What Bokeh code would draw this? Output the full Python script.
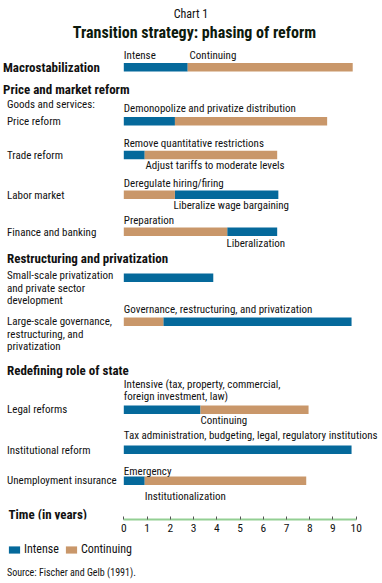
from bokeh.plotting import figure
from bokeh.models import Range1d, LinearAxis, FixedTicker, Legend, LegendItem, Label
from bokeh.layouts import column
from bokeh.core.properties import value
from bokeh.embed import file_html
from bokeh.resources import INLINE

# ---------------- data ----------------
intense_rows = ["Macrostabilization", "Price reform", "Trade reform", "Labor market",
                "Finance and banking", "Small-scale privatization", "Large-scale governance",
                "Legal reforms", "Institutional reform", "Unemployment insurance"]
intense_start = [0, 0, 0, 2.2, 4.45, 0, 1.7, 0, 0, 0]
intense_end = [2.75, 2.2, 0.9, 6.65, 6.6, 3.85, 9.8, 3.3, 9.8, 0.9]

continuing_rows = ["Macrostabilization", "Price reform", "Trade reform", "Labor market",
                   "Finance and banking", "Large-scale governance", "Legal reforms",
                   "Unemployment insurance"]
continuing_start = [2.75, 2.2, 0.9, 0, 0, 0, 3.3, 0.9]
continuing_end = [9.85, 8.75, 6.6, 2.2, 4.45, 1.7, 7.95, 7.85]

tick_values = [0, 1, 2, 3, 4, 5, 6, 7, 8, 9, 10]
tick_labels = ["0", "1", "2", "3", "4", "5", "6", "7", "8", "9", "10"]

# ---------------- layout (page pixels) ----------------
FONT = "Roboto Condensed, Roboto, sans-serif"
BLUE = "#05699b"
TAN = "#c9976a"
X0, PX = 123.3, 23.24          # page x of year 0, pixels per year
W, H = 382, 583
AXIS_Y = 519                   # page y of the time axis line (bottom of main frame)
B = 20                         # panel under the frame

def yr(px):
    return (px - X0) / PX

row_y = {"Macrostabilization": 66.8, "Price reform": 120.8, "Trade reform": 154.5,
         "Labor market": 194.2, "Finance and banking": 231.3,
         "Small-scale privatization": 277.3, "Large-scale governance": 321.3,
         "Legal reforms": 409.2, "Institutional reform": 449.2,
         "Unemployment insurance": 480.2}

p = figure(width=W, height=AXIS_Y + B, x_range=Range1d(yr(0), yr(W)),
           y_range=Range1d(AXIS_Y, 0), output_backend="svg", toolbar_location=None,
           x_axis_type=None, y_axis_type=None, min_border=0)
p.outline_line_color = None
p.min_border_bottom = B

r_int = p.hbar(y=[row_y[r] for r in intense_rows], left=intense_start, right=intense_end,
               height=8.5, fill_color=BLUE, line_color=None)
r_con = p.hbar(y=[row_y[r] for r in continuing_rows], left=continuing_start,
               right=continuing_end, height=8.5, fill_color=TAN, line_color=None)

def txt(fig, xs, ys, texts, size, bold=False, align="left", color="#111111"):
    fig.text(x=xs, y=ys, text=texts, text_font=value(FONT), text_font_size=value(size),
             text_font_style="bold" if bold else "normal", text_align=align,
             text_baseline="middle", text_color=color)

# titles
txt(p, [yr(190.5)], [13.5], ["Chart 1"], "12px", align="center")
txt(p, [yr(194)], [32], ["Transition strategy: phasing of reform"], "16px", bold=True,
    align="center", color="#0d1a0d")

# headings
head_text = ["Macrostabilization", "Price and market reform",
             "Restructuring and privatization", "Redefining role of state"]
head_x = [2.5, 2.5, 6.5, 6.5]
head_y = [67, 88.5, 258, 369.5]
txt(p, [yr(v) for v in head_x], head_y, head_text, "13px", bold=True)

# axis title (annotation, so that its descender is not clipped by the frame)
p.add_layout(Label(x=yr(8), y=514, text="Time (in years)", text_font=FONT,
                   text_font_size="13px", text_font_style="bold",
                   text_baseline="middle", text_color="#111111"))

# row labels
lab_text = ["Goods and services:", "Price reform", "Trade reform", "Labor market",
            "Finance and banking", "Small-scale privatization", "and private sector",
            "development", "Large-scale governance,", "restructuring, and", "privatization",
            "Legal reforms", "Institutional reform", "Unemployment insurance"]
lab_y = [103.5, 121, 155, 195, 232, 275, 287.5, 300, 321, 333.5, 346, 409, 450, 480]
txt(p, [yr(6.5)] * len(lab_text), lab_y, lab_text, "11px")

# bar notes
note_text = ["Intense", "Continuing", "Demonopolize and privatize distribution",
             "Remove quantitative restrictions", "Adjust tariffs to moderate levels",
             "Deregulate hiring/firing", "Liberalize wage bargaining", "Preparation",
             "Liberalization", "Governance, restructuring, and privatization",
             "Intensive (tax, property, commercial,", "foreign investment, law)",
             "Continuing", "Tax administration, budgeting, legal, regulatory institutions",
             "Emergency", "Institutionalization"]
note_x = [0, 2.83, 0, 0, 0.93, 0, 2.14, 0, 4.42, 0, 0, 0, 3.3, 0, 0, 0.9]
note_y = [55, 55, 108, 143, 165, 183, 205, 220, 243, 309, 384, 396, 420, 435, 471, 496]
txt(p, note_x, note_y, note_text, "11px")

ax = LinearAxis(ticker=FixedTicker(ticks=tick_values), bounds=(0, 10))
ax.major_label_overrides = {v: l for v, l in zip(tick_values, tick_labels)}
ax.axis_line_color = "#93cf93"
ax.axis_line_width = 2
ax.major_tick_in = 3
ax.major_tick_out = 0
ax.major_tick_line_color = "#555555"
ax.minor_tick_line_color = None
ax.major_label_standoff = 4
ax.major_label_text_font = FONT
ax.major_label_text_font_size = "11.5px"
ax.major_label_text_color = "#111111"
p.add_layout(ax, "below")

# ---------------- legend + source ----------------
top2 = AXIS_Y + B
p2 = figure(width=W, height=H - top2, x_range=Range1d(0, W), y_range=Range1d(H, top2),
            output_backend="svg", toolbar_location=None, x_axis_type=None,
            y_axis_type=None, min_border=0)
p2.outline_line_color = None
g1 = p2.hbar(y=[H], left=[0], right=[0], height=0, fill_color=BLUE, line_color=None)
g2 = p2.hbar(y=[H], left=[0], right=[0], height=0, fill_color=TAN, line_color=None)
leg = Legend(items=[LegendItem(label="Intense", renderers=[g1]),
                    LegendItem(label="Continuing", renderers=[g2])],
             orientation="horizontal", location=(7, 27))
leg.glyph_width = 14
leg.glyph_height = 9
leg.label_height = 9
leg.label_standoff = 3
leg.spacing = 5
leg.padding = 0
leg.margin = 0
leg.border_line_color = None
leg.background_fill_alpha = 0
leg.label_text_font = FONT
leg.label_text_font_size = "12px"
leg.label_text_color = "#111111"
p2.add_layout(leg, "center")
txt(p2, [6.5], [571.5], ["Source:  Fischer and Gelb (1991)."], "10px")

layout = column(p, p2, spacing=0)
open("out.html", "w").write(file_html(layout, INLINE))
